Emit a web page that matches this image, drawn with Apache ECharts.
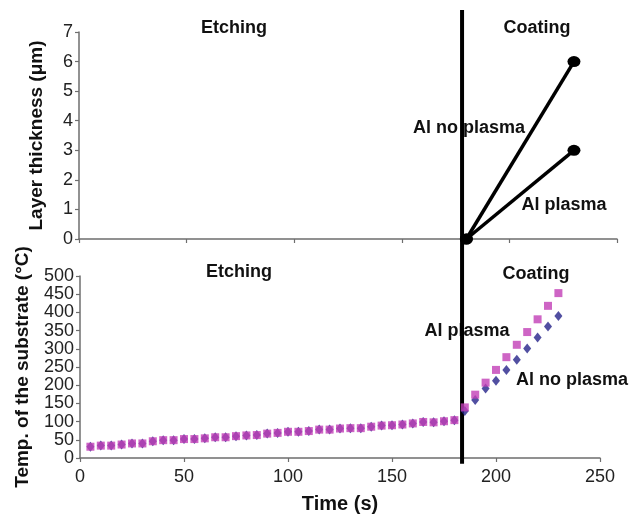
<!DOCTYPE html>
<html style="height: 100%">
<head>
  <meta charset="utf-8">
  <script src="https://cdn.jsdelivr.net/npm/echarts@6/dist/echarts.min.js"></script>
</head>
<body style="height: 100%; margin: 0">
<div id="main" style="width: 632px; height: 516px"></div>
<script type="text/javascript">
// time axis (s) ticks
var timeTicks = [0, 50, 100, 150, 200, 250];

// top panel: layer thickness (um)
var thickNoPlasma = [[180, 0], [230, 6]];
var thickPlasma = [[180, 0], [230, 3]];

// bottom panel: substrate temperature (deg C), sampled every 5 s
var sampleTimes = [5, 10, 15, 20, 25, 30, 35, 40, 45, 50, 55, 60, 65, 70, 75, 80, 85, 90,
  95, 100, 105, 110, 115, 120, 125, 130, 135, 140, 145, 150, 155, 160, 165, 170, 175, 180,
  185, 190, 195, 200, 205, 210, 215, 220, 225, 230];
var tempPlasma = [31, 34, 34, 37, 40, 40, 46, 49, 49, 52, 52, 54, 57, 57, 60, 62, 63, 67,
  69, 72, 72, 74, 78, 78, 81, 82, 82, 86, 89, 90, 92, 95, 99, 98, 101, 104,
  139, 174, 207, 242, 277, 311, 346, 381, 418, 453];
var tempNoPlasma = [31, 34, 34, 37, 40, 40, 46, 49, 49, 52, 52, 54, 57, 57, 60, 62, 63, 67,
  69, 72, 72, 74, 78, 78, 81, 82, 82, 86, 89, 90, 92, 95, 99, 98, 101, 104,
  129, 159, 191, 212, 242, 270, 301, 331, 361, 390];

// etching / coating boundary (top-panel time scale)
var dividerTime = 178;

function pairs(xs, ys) {
  return xs.map(function (x, i) { return [x, ys[i]]; });
}

var font = '"Liberation Sans", Arial, sans-serif';
var axisGray = '#6e6e6e';

function valueAxis(extra) {
  var a = {
    type: 'value',
    axisLine: { show: true, lineStyle: { color: axisGray, width: 1.5 } },
    axisTick: { show: true, inside: false, length: 4, lineStyle: { color: axisGray, width: 1.2 } },
    splitLine: { show: false },
    axisLabel: { color: '#222', fontSize: 18, fontFamily: font, margin: 6 },
    nameTextStyle: { color: '#111', fontSize: 19, fontWeight: 'bold', fontFamily: font },
    nameLocation: 'middle'
  };
  for (var k in extra) a[k] = extra[k];
  return a;
}

var dom = document.getElementById('main');
var myChart = echarts.init(dom);

function label(x, y, text) {
  return {
    type: 'text', x: x, y: y, z: 1,
    style: { text: text, fill: '#111', font: 'bold 18px ' + font, align: 'center', verticalAlign: 'middle' }
  };
}

var option = {
  backgroundColor: '#fff',
  animation: false,
  grid: [
    { left: 79, top: 32, width: 538, height: 207 },
    { left: 80, top: 276, width: 520, height: 182 }
  ],
  xAxis: [
    valueAxis({ gridIndex: 0, min: 0, max: 250, interval: 50, axisLabel: { show: false } }),
    valueAxis({ gridIndex: 1, min: 0, max: 250, interval: 50, name: 'Time (s)', nameGap: 36,
      nameTextStyle: { color: '#111', fontSize: 20, fontWeight: 'bold', fontFamily: font },
      axisLabel: { color: '#222', fontSize: 18, fontFamily: font, margin: 10 } })
  ],
  yAxis: [
    valueAxis({ gridIndex: 0, min: 0, max: 7, interval: 1, name: 'Layer thickness (\u03bcm)', nameGap: 33 }),
    valueAxis({ gridIndex: 1, min: 0, max: 500, interval: 50, name: 'Temp. of the substrate (\u00b0C)', nameGap: 48 })
  ],
  graphic: [
    label(234, 28, 'Etching'),
    label(537, 28, 'Coating'),
    label(469, 128, 'Al no plasma'),
    label(564, 205, 'Al plasma'),
    label(239, 272, 'Etching'),
    label(536, 274, 'Coating'),
    label(467, 331, 'Al plasma'),
    label(572, 380, 'Al no plasma')
  ],
  series: [
    {
      name: 'divider', type: 'line', xAxisIndex: 0, yAxisIndex: 0, clip: false, z: 2,
      data: [[dividerTime, 7.74], [dividerTime, -7.6]], symbol: 'none',
      lineStyle: { color: '#000', width: 4 }
    },
    {
      name: 'Al no plasma', type: 'line', xAxisIndex: 0, yAxisIndex: 0, z: 3,
      data: thickNoPlasma, symbol: 'circle', symbolSize: [13, 11],
      itemStyle: { color: '#000' }, lineStyle: { color: '#000', width: 3.5 }
    },
    {
      name: 'Al plasma', type: 'line', xAxisIndex: 0, yAxisIndex: 0, z: 3,
      data: thickPlasma, symbol: 'circle', symbolSize: [13, 11],
      itemStyle: { color: '#000' }, lineStyle: { color: '#000', width: 3.5 }
    },
    {
      name: 'Al no plasma temp', type: 'scatter', xAxisIndex: 1, yAxisIndex: 1, z: 3,
      data: pairs(sampleTimes, tempNoPlasma), symbol: 'diamond', symbolSize: [8, 10],
      itemStyle: { color: '#25238a' }
    },
    {
      name: 'Al plasma temp', type: 'scatter', xAxisIndex: 1, yAxisIndex: 1, z: 3,
      data: pairs(sampleTimes, tempPlasma), symbol: 'rect', symbolSize: 8,
      itemStyle: { color: '#c23fb6' }
    }
  ]
};

myChart.setOption(option);
</script>
</body>
</html>
